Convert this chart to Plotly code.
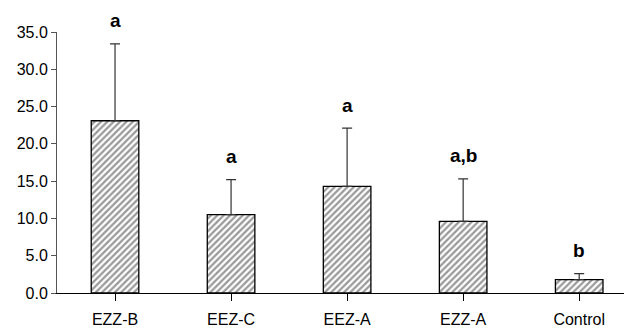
import plotly.graph_objects as go

categories = ["EZZ-B", "EEZ-C", "EEZ-A", "EZZ-A", "Control"]
means = [23.1, 10.5, 14.3, 9.6, 1.8]
errors_up = [10.3, 4.7, 7.8, 5.7, 0.8]
letters = ["a", "a", "a", "a,b", "b"]
y_ticks = [0, 5, 10, 15, 20, 25, 30, 35]

x_idx = list(range(len(categories)))

fig = go.Figure()
fig.add_trace(go.Bar(
    x=x_idx,
    y=means,
    width=0.41,
    marker=dict(
        color="white",
        line=dict(color="black", width=1.3),
        pattern=dict(shape="/", fgcolor="#333333", bgcolor="white", size=4.5, solidity=0.5),
    ),
    error_y=dict(type="data", array=errors_up, arrayminus=[0] * len(means),
                 symmetric=False, color="#333333", thickness=1.2, width=5),
    showlegend=False,
))

for i, (m, e, lab) in enumerate(zip(means, errors_up, letters)):
    fig.add_annotation(x=i, y=m + e, text="<b>" + lab + "</b>", showarrow=False,
                       yanchor="middle", yshift=23,
                       font=dict(family="Liberation Sans, Arial, sans-serif", size=19, color="black"))

# page body has an 8px default margin, so the figure is sized/offset to compensate
fig.update_layout(
    width=624, height=322,
    margin=dict(l=49, r=0, t=24, b=37, autoexpand=False),
    paper_bgcolor="white", plot_bgcolor="white",
    font=dict(family="Liberation Sans, Arial, sans-serif", size=16, color="black"),
)
fig.update_xaxes(
    range=[-0.5, 4.455],
    tickmode="array", tickvals=x_idx, ticktext=categories,
    tickson="boundaries", ticks="outside", ticklen=7, tickcolor="black", tickwidth=1,
    ticklabelstandoff=5,
    showline=True, linecolor="black", linewidth=1.2,
    showgrid=False, zeroline=False,
    tickfont=dict(size=16),
)
fig.update_yaxes(
    range=[0, 35],
    tickmode="array", tickvals=y_ticks, ticktext=[f"{v:.1f}" for v in y_ticks],
    ticks="outside", ticklen=5, tickcolor="#555555", tickwidth=1,
    showline=True, linecolor="#555555", linewidth=1,
    showgrid=False, zeroline=False,
    tickfont=dict(size=16),
)

fig.write_html("out.html")
